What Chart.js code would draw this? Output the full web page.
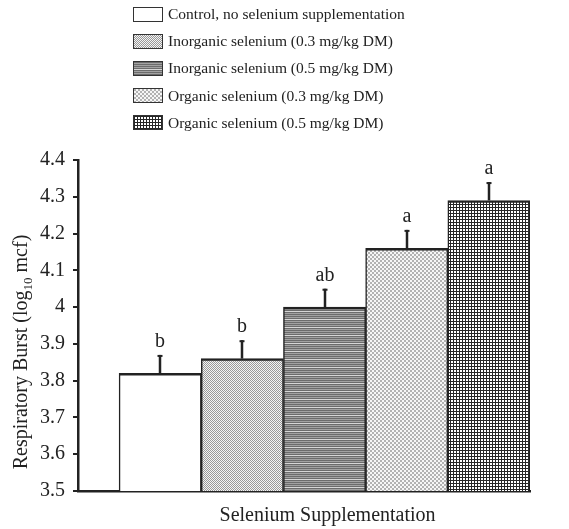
<!DOCTYPE html>
<html>
<head>
<meta charset="utf-8">
<script src="https://cdn.jsdelivr.net/npm/chart.js@4/dist/chart.umd.min.js"></script>
<style>
  html, body { margin: 0; padding: 0; background: #fff; }
  #wrap { position: relative; width: 569px; height: 529px; }
  #chart { position: absolute; left: 0; top: 0; }
  #legend {
    position: absolute; left: 133px; top: 0.5px; margin: 0; padding: 0; list-style: none;
    font-family: 'Liberation Serif', 'Times New Roman', serif; font-size: 15.5px; color: #222;
  }
  #legend li { display: flex; align-items: center; height: 27.2px; white-space: nowrap; }
  #legend canvas { width: 28px; height: 13px; border: 1px solid #333; margin-right: 5px; display: block; }
</style>
</head>
<body>
<div id="wrap">
  <canvas id="chart" width="569" height="529"></canvas>
  <ul id="legend"></ul>
</div>
<script>
// Treatment groups and measured respiratory burst (log10 mcf)
const categories = [
  'Control, no selenium supplementation',
  'Inorganic selenium (0.3 mg/kg DM)',
  'Inorganic selenium (0.5 mg/kg DM)',
  'Organic selenium (0.3 mg/kg DM)',
  'Organic selenium (0.5 mg/kg DM)'
];
const respiratoryBurst = [3.82, 3.86, 4.00, 4.16, 4.29];
const standardError = [0.05, 0.05, 0.05, 0.05, 0.05];
const significanceLetters = ['b', 'b', 'ab', 'a', 'a'];
const yTickLabels = ['3.5', '3.6', '3.7', '3.8', '3.9', '4', '4.1', '4.2', '4.3', '4.4'];
const fillStyles = ['plain', 'fineCheck', 'hStripe', 'lightCheck', 'grid'];

const INK = '#222';
const SERIF = "'Liberation Serif', 'Times New Roman', serif";

// Small pixel tiles used as hatch fills
function makeTile(kind) {
  const c = document.createElement('canvas');
  const px = (ctx, x, y, col) => { ctx.fillStyle = col; ctx.fillRect(x, y, 1, 1); };
  let ctx;
  if (kind === 'plain') {
    c.width = c.height = 1; ctx = c.getContext('2d'); px(ctx, 0, 0, '#fff');
  } else if (kind === 'fineCheck') {
    c.width = c.height = 2; ctx = c.getContext('2d');
    px(ctx, 0, 0, '#989898'); px(ctx, 1, 1, '#989898');
    px(ctx, 1, 0, '#f4f4f4'); px(ctx, 0, 1, '#f4f4f4');
  } else if (kind === 'hStripe') {
    const rows = ['#6c6c6c', '#a2a2a2', '#6c6c6c', '#a2a2a2', '#6c6c6c', '#a2a2a2', '#6c6c6c', '#d6d6d6'];
    c.width = 1; c.height = rows.length; ctx = c.getContext('2d');
    rows.forEach((col, y) => px(ctx, 0, y, col));
  } else if (kind === 'lightCheck') {
    c.width = c.height = 4; ctx = c.getContext('2d');
    for (let y = 0; y < 4; y++) for (let x = 0; x < 4; x++)
      px(ctx, x, y, (((x >> 1) + (y >> 1)) % 2 === 0) ? '#b2b2b2' : '#f6f6f6');
  } else {
    c.width = c.height = 3; ctx = c.getContext('2d');
    for (let y = 0; y < 3; y++) for (let x = 0; x < 3; x++)
      px(ctx, x, y, (x === 0 || y === 0) ? '#262626' : '#ffffff');
  }
  return c;
}

const chartCanvas = document.getElementById('chart');
const chartCtx = chartCanvas.getContext('2d');
const tiles = fillStyles.map(makeTile);
const patterns = tiles.map(t => chartCtx.createPattern(t, 'repeat'));

const datasets = categories.map((label, i) => ({
  label,
  data: [{ x: i, y: respiratoryBurst[i] }],
  backgroundColor: patterns[i],
  borderColor: INK,
  borderWidth: { top: 2.5, left: 1.5, right: 1.5, bottom: 0 },
  borderSkipped: false,
  grouped: false,
  barPercentage: 1,
  categoryPercentage: 1
}));

// Error bars, significance letters and axis titles
const annotations = {
  id: 'annotations',
  afterDatasetsDraw(chart) {
    const { ctx, scales: { x, y } } = chart;
    ctx.save();
    ctx.strokeStyle = INK;
    ctx.fillStyle = INK;
    respiratoryBurst.forEach((v, i) => {
      const cx = Math.round(x.getPixelForValue(i));
      const yTop = y.getPixelForValue(v);
      const yErr = y.getPixelForValue(v + standardError[i]);
      ctx.lineWidth = 2.5;
      ctx.beginPath();
      ctx.moveTo(cx, yTop);
      ctx.lineTo(cx, yErr);
      ctx.stroke();
      ctx.lineWidth = 2;
      ctx.beginPath();
      ctx.moveTo(cx - 2.5, yErr + 1);
      ctx.lineTo(cx + 2.5, yErr + 1);
      ctx.stroke();
      ctx.font = `20px ${SERIF}`;
      ctx.textAlign = 'center';
      ctx.textBaseline = 'alphabetic';
      ctx.fillText(significanceLetters[i], cx, yErr - 8);
    });

    // x-axis title, centred under the bars
    ctx.font = `20px ${SERIF}`;
    ctx.textAlign = 'center';
    ctx.textBaseline = 'alphabetic';
    ctx.fillText('Selenium Supplementation', x.getPixelForValue(2) + 3, 521);

    // y-axis title with subscript
    const parts = [
      { t: 'Respiratory Burst (log', size: 20, dy: 0 },
      { t: '10', size: 13, dy: 5 },
      { t: ' mcf)', size: 20, dy: 0 }
    ];
    let total = 0;
    parts.forEach(p => { ctx.font = `${p.size}px ${SERIF}`; p.w = ctx.measureText(p.t).width; total += p.w; });
    ctx.translate(21, 352);
    ctx.rotate(-Math.PI / 2);
    ctx.textAlign = 'left';
    let pos = -total / 2;
    parts.forEach(p => {
      ctx.font = `${p.size}px ${SERIF}`;
      ctx.fillText(p.t, pos, 6 + p.dy);
      pos += p.w;
    });
    ctx.restore();
  }
};

// Legend written as HTML list items
const htmlLegend = {
  id: 'htmlLegend',
  afterUpdate(chart) {
    const list = document.getElementById('legend');
    list.innerHTML = '';
    chart.data.datasets.forEach((ds, i) => {
      const li = document.createElement('li');
      const sw = document.createElement('canvas');
      sw.width = 28; sw.height = 13;
      const sctx = sw.getContext('2d');
      sctx.fillStyle = sctx.createPattern(tiles[i], 'repeat');
      sctx.fillRect(0, 0, 28, 13);
      const span = document.createElement('span');
      span.textContent = ds.label;
      li.appendChild(sw);
      li.appendChild(span);
      list.appendChild(li);
    });
  }
};

new Chart(chartCtx, {
  type: 'bar',
  data: { datasets },
  plugins: [annotations, htmlLegend],
  options: {
    responsive: false,
    animation: false,
    devicePixelRatio: 1,
    layout: { padding: { left: 0, right: 39, top: 160, bottom: 38 } },
    plugins: { legend: { display: false }, tooltip: { enabled: false } },
    scales: {
      x: {
        type: 'linear',
        min: -1,
        max: 4.5,
        offset: false,
        grid: { display: false },
        ticks: { display: false },
        border: { display: true, color: INK, width: 2.5 },
        // one tick per group so each bar spans a full unit
        afterBuildTicks(scale) { scale.ticks = categories.map((_, i) => ({ value: i })); },
        afterFit(scale) { scale.height = 0; }
      },
      y: {
        type: 'linear',
        min: 3.5,
        max: 4.4,
        beginAtZero: false,
        grid: { drawOnChartArea: false, drawTicks: true, tickLength: 5, color: INK, lineWidth: 2 },
        border: { display: true, color: INK, width: 2.5 },
        ticks: {
          stepSize: 0.1,
          padding: 8,
          color: INK,
          font: { family: SERIF, size: 20 },
          callback: (value, index) => yTickLabels[index]
        },
        afterFit(scale) { scale.width = 78; }
      }
    }
  }
});
</script>
</body>
</html>
